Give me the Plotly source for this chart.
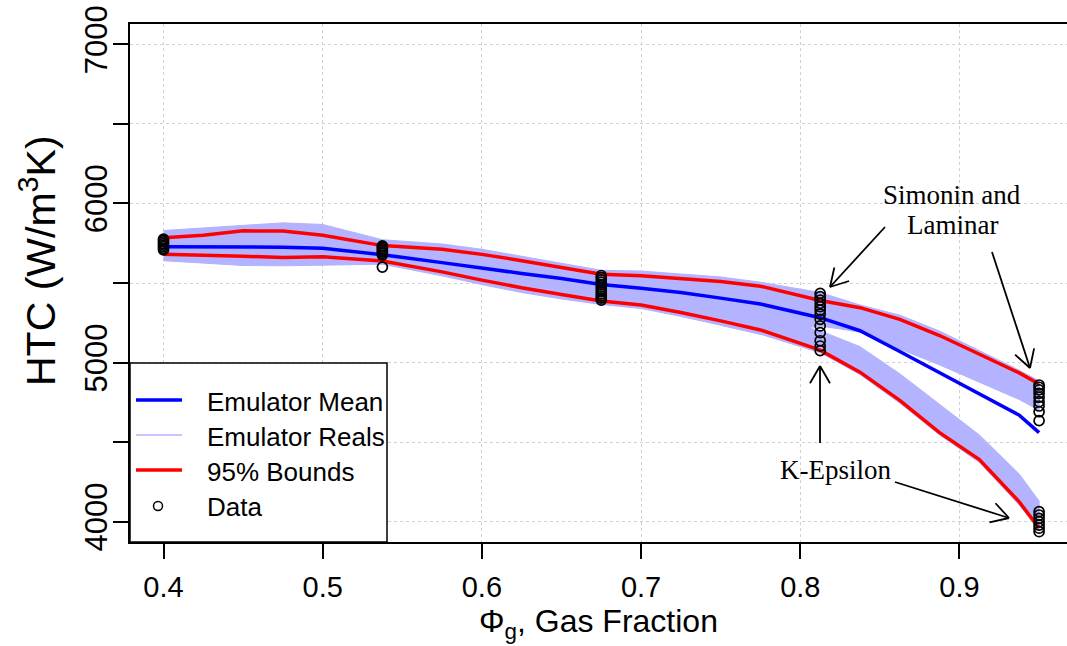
import math
import plotly.graph_objects as go

# ---------------- data ----------------
x_grid = [0.4, 0.425, 0.45, 0.475, 0.5, 0.5375, 0.575, 0.6, 0.625, 0.65, 0.675,
          0.7, 0.725, 0.75, 0.775, 0.8125, 0.8375, 0.8625, 0.8875, 0.9125, 0.9375, 0.95]

emulator_mean = [5728, 5728, 5728, 5725, 5718, 5678, 5628, 5592, 5560, 5528, 5490,
                 5467, 5440, 5405, 5368, 5282, 5200, 5070, 4935, 4800, 4670, 4560]

bound_upper = [5785, 5800, 5828, 5826, 5800, 5735, 5712, 5680, 5640, 5600, 5555,
               5545, 5525, 5510, 5480, 5390, 5345, 5272, 5170, 5055, 4935, 4865]

bound_lower = [5680, 5676, 5668, 5660, 5665, 5638, 5570, 5518, 5470, 5428, 5387,
               5362, 5315, 5262, 5205, 5078, 4940, 4762, 4560, 4390, 4125, 3960]

# envelope of the realisations, main / upper ("Simonin and Laminar") bundle
reals_upper_top = [5830, 5845, 5862, 5878, 5868, 5772, 5745, 5712, 5668, 5625, 5580,
                   5575, 5556, 5538, 5505, 5440, 5362, 5298, 5198, 5075, 4952, 4885]
reals_upper_bot = [5640, 5625, 5610, 5608, 5612, 5618, 5545, 5490, 5440, 5400, 5365,
                   5340, 5290, 5235, 5178, 5230, 5192, 5085, 4985, 4878, 4768, 4700]

# envelope of the lower ("K-Epsilon") bundle
x_low = [0.75, 0.775, 0.8125, 0.8375, 0.8625, 0.8875, 0.9125, 0.9375, 0.95]
reals_lower_top = [5330, 5290, 5200, 5100, 4930, 4740, 4545, 4300, 4130]
reals_lower_bot = [5235, 5178, 5062, 4925, 4745, 4545, 4372, 4105, 3945]

# observed data
data_x_groups = [0.4, 0.5375, 0.675, 0.8125, 0.95]
data_y_groups = [
    [5708, 5718, 5728, 5738, 5748, 5758, 5768, 5776],
    [5600, 5676, 5686, 5696, 5706, 5716, 5725, 5733],
    [5393, 5405, 5418, 5432, 5446, 5460, 5475, 5490, 5505, 5520, 5535, 5547],
    [5075, 5104, 5137, 5188, 5230, 5272, 5305, 5330, 5351, 5372, 5393, 5414, 5435],
    [3937, 3959, 3979, 4000, 4021, 4042, 4063, 4635, 4691, 4727, 4754, 4782, 4807,
     4828, 4845, 4859],
]

x_ticks = [0.4, 0.5, 0.6, 0.7, 0.8, 0.9]
x_ticktext = ["0.4", "0.5", "0.6", "0.7", "0.8", "0.9"]
y_ticks = [4000, 5000, 6000, 7000]
y_ticktext = ["4000", "5000", "6000", "7000"]
y_minor_ticks = [4500, 5500, 6500]

legend_labels = ["Emulator Mean", "Emulator Reals", "95% Bounds", "Data"]

# ---------------- styling ----------------
REAL_COL = "#b3b3ff"
SANS = "Liberation Sans"
SERIF = "Liberation Serif"
GRID = "#d0d0d0"
W, H = 1067, 646
PL, PR, PT, PB = 130, 1067, 24, 542  # plot area in pixels


def px(xp):
    return (xp - PL) / (PR - PL)


def py(yp):
    return (PB - yp) / (PB - PT)


fig = go.Figure()

# realisation bands
fig.add_trace(go.Scatter(
    x=x_grid + x_grid[::-1], y=reals_upper_top + reals_upper_bot[::-1],
    fill="toself", fillcolor=REAL_COL, mode="lines",
    line=dict(color=REAL_COL, width=1), hoverinfo="skip", showlegend=False))
fig.add_trace(go.Scatter(
    x=x_low + x_low[::-1], y=reals_lower_top + reals_lower_bot[::-1],
    fill="toself", fillcolor=REAL_COL, mode="lines",
    line=dict(color=REAL_COL, width=1), hoverinfo="skip", showlegend=False))

# mean and bounds
fig.add_trace(go.Scatter(x=x_grid, y=emulator_mean, mode="lines",
                         line=dict(color="#0000ff", width=3.5), showlegend=False))
fig.add_trace(go.Scatter(x=x_grid, y=bound_upper, mode="lines",
                         line=dict(color="#ff0000", width=3.5), showlegend=False))
fig.add_trace(go.Scatter(x=x_grid, y=bound_lower, mode="lines",
                         line=dict(color="#ff0000", width=3.5), showlegend=False))

# data points
for xv, ys in zip(data_x_groups, data_y_groups):
    fig.add_trace(go.Scatter(
        x=[xv] * len(ys), y=ys, mode="markers",
        marker=dict(symbol="circle-open", size=10, color="black",
                    line=dict(color="black", width=1.7)),
        showlegend=False))

shapes = []
annotations = []

# legend box
shapes.append(dict(type="rect", xref="paper", yref="paper",
                   x0=px(130), x1=px(387), y0=py(542), y1=py(363),
                   fillcolor="white", line=dict(color="black", width=1.5),
                   layer="above"))
leg_line_y = [400, 435, 470]
leg_styles = [("#0000ff", 3.5), (REAL_COL, 1.5), ("#ff0000", 3.5)]
for yy, (c, w) in zip(leg_line_y, leg_styles):
    shapes.append(dict(type="line", xref="paper", yref="paper",
                       x0=px(136), x1=px(182), y0=py(yy), y1=py(yy),
                       line=dict(color=c, width=w), layer="above"))
shapes.append(dict(type="circle", xref="paper", yref="paper",
                   x0=px(153.5), x1=px(162.5), y0=py(510.5), y1=py(501.5),
                   line=dict(color="black", width=1.5), layer="above"))
for yy, lab in zip([402, 437, 472, 507], legend_labels):
    annotations.append(dict(x=px(205), y=py(yy), xref="paper", yref="paper",
                            text=lab, showarrow=False, xanchor="left",
                            yanchor="middle",
                            font=dict(family=SANS, size=26, color="black")))


# arrows (R-style open heads)
def add_arrow(x0, y0, x1, y1, head=20, ang=30):
    shapes.append(dict(type="line", xref="paper", yref="paper",
                       x0=px(x0), y0=py(y0), x1=px(x1), y1=py(y1),
                       line=dict(color="black", width=1.8)))
    th = math.atan2(y0 - y1, x0 - x1)
    for s in (-1, 1):
        a = th + s * math.radians(ang)
        hx, hy = x1 + head * math.cos(a), y1 + head * math.sin(a)
        shapes.append(dict(type="line", xref="paper", yref="paper",
                           x0=px(x1), y0=py(y1), x1=px(hx), y1=py(hy),
                           line=dict(color="black", width=1.8)))


add_arrow(885, 227, 830, 287)
add_arrow(992, 252, 1030, 368)
add_arrow(820, 443, 820, 366)
add_arrow(895, 482, 1009, 518)

for txt, (xx, yy) in [("Simonin and", (952, 195)), ("Laminar", (952, 225)),
                      ("K-Epsilon", (835, 470))]:
    annotations.append(dict(x=px(xx), y=py(yy), xref="paper", yref="paper",
                            text=txt, showarrow=False, xanchor="center",
                            yanchor="middle",
                            font=dict(family=SERIF, size=27, color="black")))

# axis titles
annotations.append(dict(x=px(598), y=py(623), xref="paper", yref="paper",
                        text="Φ<sub>g</sub>, Gas Fraction", showarrow=False,
                        xanchor="center", yanchor="middle",
                        font=dict(family=SANS, size=32, color="black")))
annotations.append(dict(x=px(38), y=py(261), xref="paper", yref="paper",
                        text="HTC (W/m<sup>3</sup>K)", showarrow=False,
                        textangle=-90, xanchor="center", yanchor="middle",
                        font=dict(family=SANS, size=41, color="black")))

fig.update_layout(
    width=W, height=H,
    margin=dict(l=PL, r=W - PR, t=PT, b=H - PB, pad=0),
    plot_bgcolor="white", paper_bgcolor="white",
    shapes=shapes, annotations=annotations, showlegend=False,
    xaxis=dict(range=[0.37896, 0.96753], tickvals=x_ticks, ticktext=x_ticktext,
               ticks="outside", ticklen=15, tickwidth=1.5, tickcolor="black",
               showline=True, linecolor="black", linewidth=2, mirror=True,
               showgrid=True, gridcolor=GRID, griddash="dot", gridwidth=1.2,
               zeroline=False, ticklabelstandoff=3,
               tickfont=dict(family=SANS, size=29, color="black")),
    yaxis=dict(range=[3872.4, 7127.6], tickvals=y_ticks, ticktext=y_ticktext,
               tickangle=-90, ticks="outside", ticklen=15, tickwidth=1.5,
               tickcolor="black", showline=True, linecolor="black", linewidth=2,
               showgrid=True, gridcolor=GRID, griddash="dot", gridwidth=1.2,
               zeroline=False, ticklabelstandoff=-6,
               minor=dict(tickvals=y_minor_ticks, ticks="outside", ticklen=15,
                          tickwidth=1.5, tickcolor="black", showgrid=True,
                          gridcolor=GRID, griddash="dot", gridwidth=1.2),
               tickfont=dict(family=SANS, size=31, color="black")),
)

fig.write_html("out.html")
